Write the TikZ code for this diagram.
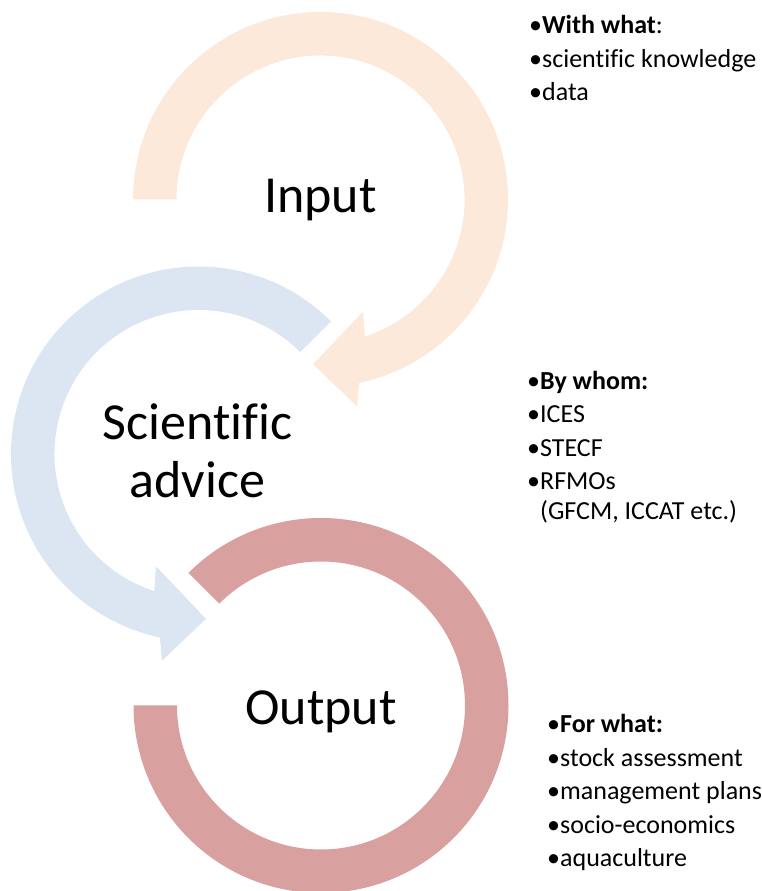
\documentclass[tikz,border=0pt]{standalone}
\usepackage{fontspec}
\setmainfont{Carlito}[Ligatures=NoCommon]
\definecolor{inputpeach}{HTML}{FCE9DA}
\definecolor{adviceblue}{HTML}{DCE6F2}
\definecolor{outputrose}{HTML}{D8A09F}
\tikzset{
  biglabel/.style={inner sep=0pt,anchor=base,align=center,
    font=\fontsize{52}{58}\selectfont},
  listtext/.style={inner sep=0pt,anchor=base west,align=left,
    font=\fontsize{26}{30}\selectfont},
}
\begin{document}
\begin{tikzpicture}[x=1pt,y=1pt,line join=miter]
  \useasboundingbox (0,0) rectangle (762,891);
  % input: clockwise from the left, head at the bottom
  \fill[inputpeach,shift={(320.5,691.5)}] (180:187.5)
     arc[start angle=180,end angle=-78.1,radius=187.5]
     --(-80:210) coordinate (inhead) --(-92.6:165) coordinate (intip)
     --(-69.2:120) --(-72.1:144)
     arc[start angle=-72.1,end angle=180,radius=144] --cycle;
  % scientific advice: counter-clockwise from 45 degrees
  \fill[adviceblue,shift={(198.5,437)}] (45:187.5)
     arc[start angle=45,end angle=258.1,radius=187.5]
     --(260:210) coordinate (adhead) --(272.6:165) coordinate (adtip)
     --(249.2:120) --(252.1:144)
     arc[start angle=252.1,end angle=45,radius=144] --cycle;
  % output: open ring, no head
  \fill[outputrose,shift={(321,185.5)}] (135:187.5)
     arc[start angle=135,end angle=-180,radius=187.5]
     --(-180:144)
     arc[start angle=-180,end angle=135,radius=144] --cycle;
  % labels sit on the baseline of their last line
  \node[biglabel] (input) at (320.5,678) {Input};
  \node[biglabel] (advice) at (197.5,393) {Scientific\\advice};
  \node[biglabel] (output) at (321,166) {Output};
  \node[listtext] (withwhat) at (529,790)
    {•\textbf{With what}:\\[3.5pt]•scientific knowledge\\[3.5pt]•data};
  \node[listtext] (bywhom) at (527,371)
    {•\textbf{By whom:}\\[3.5pt]•ICES\\[3.5pt]•STECF\\[3.5pt]•RFMOs\\
     \phantom{•}(GFCM, ICCAT etc.)};
  \node[listtext] (forwhat) at (547,24)
    {•\textbf{For what:}\\[3.5pt]•stock assessment\\[3.5pt]•management plans\\[3.5pt]%
     •socio-economics\\[3.5pt]•aquaculture};
\end{tikzpicture}
\end{document}
